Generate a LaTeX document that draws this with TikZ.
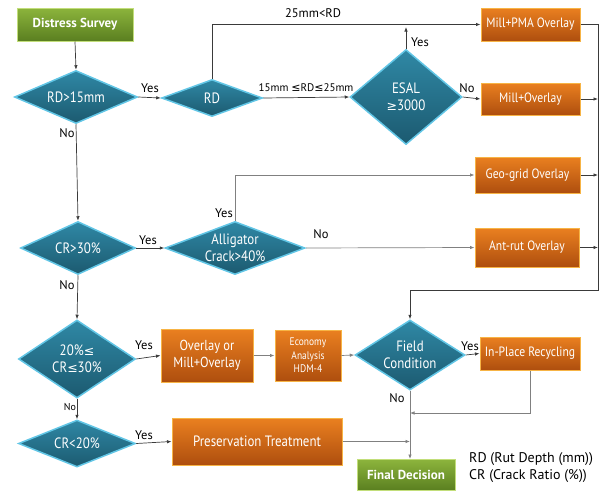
\documentclass[tikz,border=0pt]{standalone}
\usepackage{fontspec}
\setmainfont{PT Sans}
\newfontfamily\condf[FakeStretch=0.86]{PT Sans}
\newfontfamily\symf{DejaVu Sans}
\usetikzlibrary{shapes.geometric,arrows.meta}
\definecolor{lineC}{HTML}{3A3A3A}
\definecolor{oTop}{HTML}{EA8020}
\definecolor{oBot}{HTML}{AE4E0E}
\definecolor{oBorder}{HTML}{F7B445}
\definecolor{dTop}{HTML}{2F88A5}
\definecolor{dBot}{HTML}{1C5A70}
\definecolor{dBorder}{HTML}{62C6E6}
\definecolor{gTop}{HTML}{8CB43C}
\definecolor{gBot}{HTML}{5A7F20}
\definecolor{gBorder}{HTML}{C2DE7A}
\tikzset{
  conn/.style={draw=lineC, line width=0.7pt, -{Latex[length=4.5pt,width=3.5pt]}},
  obox/.style={rectangle, draw=oBorder, line width=1pt, top color=oTop, bottom color=oBot,
    text=white, font=\condf\fontsize{13.5}{15.5}\selectfont, align=center, inner sep=1pt},
  gbox/.style={rectangle, draw=gBorder, line width=1pt, top color=gTop, bottom color=gBot,
    text=white, font=\bfseries\fontsize{13}{15}\selectfont, align=center, inner sep=1pt},
  dia/.style={diamond, draw=dBorder, line width=1.5pt, top color=dTop, bottom color=dBot,
    text=white, inner sep=0pt, align=center, font=\condf\fontsize{15}{17}\selectfont},
  lab/.style={font=\fontsize{12.5}{14}\selectfont, text=black, inner sep=1pt},
}
\newcommand{\mysym}[1]{{\symf\fontsize{12.5}{14}\selectfont #1}}
\newcommand{\mysmallsym}[1]{{\symf\fontsize{11}{13}\selectfont #1}}
\begin{document}
\begin{tikzpicture}[x=1pt,y=-1pt]
\useasboundingbox (0,0) rectangle (602,490);

% boxes
\node[gbox, minimum width=116, minimum height=33] (ds) at (75,24.5) {Distress Survey};
\node[gbox, minimum width=98, minimum height=31] (fd) at (406,475) {Final Decision};
\node[obox, minimum width=99, minimum height=33] (pma) at (530.5,24.5) {Mill+PMA Overlay};
\node[obox, minimum width=99, minimum height=32] (mo) at (530.5,99) {Mill+Overlay};
\node[obox, minimum width=105, minimum height=36] (geo) at (527.5,175) {Geo-grid Overlay};
\node[obox, minimum width=104, minimum height=39] (ant) at (527,247.5) {Ant-rut Overlay};
\node[obox, minimum width=92, minimum height=53, font=\condf\fontsize{14.5}{16.5}\selectfont] (omo) at (207,355.5) {Overlay or\\Mill+Overlay};
\node[obox, minimum width=66, minimum height=51, font=\condf\fontsize{11}{13.5}\selectfont] (eco) at (308,355.5) {Economy\\Analysis\\HDM-4};
\node[obox, minimum width=100, minimum height=33] (ipr) at (530,353.5) {In-Place Recycling};
\node[obox, minimum width=170, minimum height=47, font=\condf\fontsize{15}{17}\selectfont] (pt) at (257,441.5) {Preservation Treatment};

% diamonds
\node[dia, shape aspect=2.3, minimum width=123, minimum height=53] (d1) at (76,97) {RD>15mm};
\node[dia, shape aspect=2.7, minimum width=101, minimum height=37] (rd) at (212,98) {RD};
\node[dia, shape aspect=1.2, minimum width=112, minimum height=95] (esal) at (406,97) {ESAL\\\mysym{≥}3000};
\node[dia, shape aspect=2.2, minimum width=115, minimum height=53] (d2) at (78,248) {CR>30\%};
\node[dia, shape aspect=2.6, minimum width=140, minimum height=53] (ali) at (235,248) {Alligator\\Crack>40\%};
\node[dia, shape aspect=1.5, minimum width=117, minimum height=78] (d3) at (77,359) {20\%\mysym{≤}\\CR\mysym{≤}30\%};
\node[dia, shape aspect=1.57, minimum width=110, minimum height=70] (fc) at (410,355) {Field\\Condition};
\node[dia, shape aspect=2.5, minimum width=117, minimum height=47] (d4) at (77,443.5) {CR<20\%};

% helper coordinates
\coordinate (rc) at (598,290);
\coordinate (esaltop) at (406,27);
\coordinate (m1) at (410,413);

% connectors
\draw[conn] (ds.south) -- (d1.north);
\draw[conn] (d1.east) -- (rd.west);
\draw[conn] (rd.north) |- (pma.west);
\draw[conn] (rd.east) -- (esal.west);
\draw[conn] (esal.north) -- (esaltop);
\draw[conn] (esal.east) -- (mo.west);
\draw[conn] (pma.east) -| (rc) -| (fc.north);
\draw[conn] (mo.east) -- (mo.east -| rc);
\draw[conn] (geo.east) -- (geo.east -| rc);
\draw[conn] (ant.east) -- (ant.east -| rc);
\draw[conn] (d1.south) -- (d2.north);
\draw[conn] (d2.east) -- (ali.west);
\draw[conn, draw=gray] (ali.north) |- (geo.west);
\draw[conn, draw=gray] (ali.east) -- (ant.west);
\draw[conn] (d2.south) -- (d3.north);
\draw[conn] (d3.east) -- (omo.west);
\draw[conn, draw=gray] (omo.east) -- (eco.west);
\draw[conn, draw=gray] (eco.east) -- (fc.west);
\draw[conn] (fc.east) -- (ipr.west);
\draw[conn, draw=gray] (ipr.south) |- (m1);
\draw[conn, draw=gray] (fc.south) -- (fc.south |- fd.north);
\draw[conn, draw=gray] (pt.east) -- (pt.east -| fc.south);
\draw[conn] (d3.south) -- (d4.north);
\draw[conn] (d4.east) -- (pt.west);

% labels
\node[lab] (l1) at (150,88) {Yes};
\node[lab] (l2) at (313,13) {25mm<RD};
\node[lab, font=\fontsize{11}{13}\selectfont] (l3) at (306,88) {15mm \mysmallsym{≤}RD\mysmallsym{≤}25mm};
\node[lab] (l4) at (420,42) {Yes};
\node[lab] (l5) at (467,88) {No};
\node[lab] (l6) at (67,133) {No};
\node[lab] (l7) at (148,240) {Yes};
\node[lab] (l8) at (224,213) {Yes};
\node[lab] (l9) at (321,234) {No};
\node[lab] (l10) at (67,285) {No};
\node[lab] (l11) at (144,345) {Yes};
\node[lab] (l12) at (470,346) {Yes};
\node[lab] (l13) at (397,398) {No};
\node[lab, font=\fontsize{10}{11}\selectfont] (l14) at (70,407) {No};
\node[lab] (l15) at (144,435) {Yes};
\node[lab, anchor=west, align=left, font=\fontsize{14}{17}\selectfont] (leg) at (468,468) {RD (Rut Depth (mm))\\CR (Crack Ratio (\%))};
\end{tikzpicture}
\end{document}
